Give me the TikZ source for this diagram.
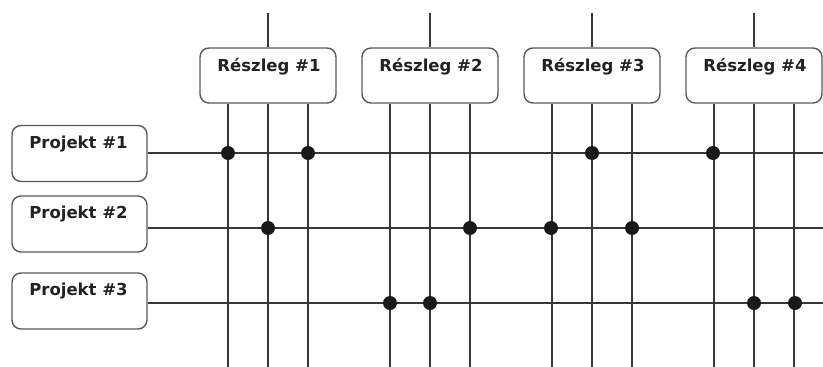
\documentclass[tikz,border=0pt]{standalone}
\usepackage{fontspec}
\setmainfont{DejaVu Sans}
\usetikzlibrary{calc}
\definecolor{linecol}{HTML}{383838}
\definecolor{boxcol}{HTML}{5A5A5A}
\definecolor{txtcol}{HTML}{222222}
\tikzset{
  x=1pt,y=-1pt,
  boxnode/.style={draw=boxcol, line width=1.4pt, rounded corners=9pt, fill=white, minimum width=136pt, minimum height=55pt, inner sep=0pt},
  pbox/.style={boxnode, minimum width=135pt, minimum height=56pt},
  boxtxt/.style={font=\bfseries\fontsize{16.5}{19}\selectfont, text=txtcol, inner sep=0pt},
  wire/.style={draw=linecol, line width=2pt},
  dot/.style={circle, fill=black!90, inner sep=0pt, minimum size=14pt},
}
\begin{document}
\begin{tikzpicture}
\useasboundingbox (0,0) rectangle (823,367);
% department boxes
\foreach \i/\cx in {1/268,2/430,3/592,4/754}{
  \node[boxnode] (r\i) at (\cx,75.5) {};
  \node[boxtxt] (r\i t) at ($(r\i.north)+(1,19)$) {Részleg \#\i};
  \coordinate (top\i) at (\cx,13);
  \coordinate (bl\i) at (\cx-40,367);
  \coordinate (bc\i) at (\cx,367);
  \coordinate (br\i) at (\cx+40,367);
  \draw[wire] (top\i) -- (r\i.north);
  \draw[wire] (r\i.south) ++(-40,0) coordinate (sl\i) -- (bl\i);
  \draw[wire] (r\i.south) -- (bc\i);
  \draw[wire] (r\i.south) ++(40,0) coordinate (sr\i) -- (br\i);
}
% project boxes
\node[pbox] (p1) at (79.5,153.5) {};
\node[pbox] (p2) at (79.5,224) {};
\node[pbox] (p3) at (79.5,301) {};
\foreach \j in {1,2,3}{
  \node[boxtxt] (p\j t) at ($(p\j.north)+(-1,19)$) {Projekt \#\j};
}
\coordinate (e1) at (823,153);
\coordinate (e2) at (823,228);
\coordinate (e3) at (823,303);
\draw[wire] (p1.east |- e1) -- (e1);
\draw[wire] (p2.east |- e2) -- (e2);
\draw[wire] (p3.east |- e3) -- (e3);
% dots
\foreach \n/\x/\y in {a/228/153,b/308/153,c/592/153,d/713/153,
                      e/268/228,f/470/228,g/551/228,h/632/228,
                      i/390/303,j/430/303,k/754/303,l/795/303}{
  \node[dot] (d\n) at (\x,\y) {};
}
\end{tikzpicture}
\end{document}
